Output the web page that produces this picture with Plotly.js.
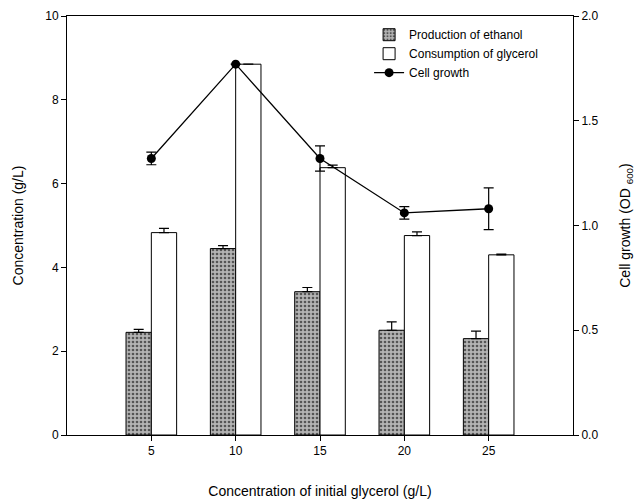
<!DOCTYPE html>
<html>
<head>
<meta charset="utf-8">
<script src="https://cdn.plot.ly/plotly-3.0.1.min.js"></script>
<style>html,body{margin:0;padding:0;background:#fff;}</style>
</head>
<body>
<div id="chart" style="width:637px;height:503px;"></div>
<script>
const glycerolInitial = [5, 10, 15, 20, 25];
const ethanol = [2.45, 4.45, 3.42, 2.5, 2.3];
const ethanolErr = [0.07, 0.07, 0.1, 0.2, 0.18];
const glycerolConsumed = [4.83, 8.85, 6.38, 4.76, 4.3];
const glycerolErr = [0.1, 0.0, 0.06, 0.09, 0.02];
const cellGrowth = [1.32, 1.77, 1.32, 1.06, 1.08];
const cellGrowthErr = [0.03, 0.0, 0.06, 0.03, 0.1];
const xTicks = [5, 10, 15, 20, 25];

const FONT = 'Liberation Sans, Arial, sans-serif';

const traces = [
  {
    type: 'bar', name: 'Production of ethanol',
    x: glycerolInitial, y: ethanol,
    offset: -1.5, width: 1.5,
    marker: {color: '#a6a6a6', line: {color: '#000', width: 1},
             pattern: {shape: '.', fgcolor: '#555', bgcolor: '#b4b4b4', size: 4, solidity: 0.35}},
    error_y: {type: 'data', array: ethanolErr, symmetric: false, arrayminus: ethanolErr.map(() => 0),
              color: '#000', thickness: 1.2, width: 5},
    xaxis: 'x', yaxis: 'y'
  },
  {
    type: 'bar', name: 'Consumption of glycerol',
    x: glycerolInitial, y: glycerolConsumed,
    offset: 0, width: 1.5,
    marker: {color: '#ffffff', line: {color: '#000', width: 1}},
    error_y: {type: 'data', array: glycerolErr, symmetric: false, arrayminus: glycerolErr.map(() => 0),
              color: '#000', thickness: 1.2, width: 5},
    xaxis: 'x', yaxis: 'y'
  },
  {
    type: 'scatter', mode: 'lines+markers', name: 'Cell growth',
    x: glycerolInitial, y: cellGrowth,
    line: {color: '#000', width: 1.3},
    marker: {color: '#000', size: 9, symbol: 'circle'},
    error_y: {type: 'data', array: cellGrowthErr, color: '#000', thickness: 1.2, width: 5},
    xaxis: 'x', yaxis: 'y2'
  }
];

const layout = {
  width: 637, height: 503,
  margin: {l: 67, r: 64, t: 16, b: 68},
  paper_bgcolor: '#fff', plot_bgcolor: '#fff',
  font: {family: FONT, size: 12, color: '#000'},
  showlegend: true,
  barmode: 'overlay',
  legend: {x: 0.597, y: 0.99, xanchor: 'left', yanchor: 'top',
           bgcolor: 'rgba(0,0,0,0)', font: {family: FONT, size: 12, color: '#000'},
           tracegroupgap: 0, itemwidth: 30},
  xaxis: {
    range: [0, 30], tickvals: xTicks, ticktext: xTicks.map(String),
    ticks: 'outside', ticklen: 5, tickcolor: '#000', tickwidth: 1,
    showline: true, linecolor: '#000', linewidth: 1, mirror: true,
    showgrid: false, zeroline: false,
    tickfont: {family: FONT, size: 12, color: '#000'},
    title: {text: 'Concentration of initial glycerol (g/L)', font: {family: FONT, size: 14, color: '#000'}, standoff: 28}
  },
  yaxis: {
    range: [0, 10], dtick: 2, tick0: 0,
    ticks: 'outside', ticklen: 5, tickcolor: '#000', tickwidth: 1,
    showline: true, linecolor: '#000', linewidth: 1,
    showgrid: false, zeroline: false,
    tickfont: {family: FONT, size: 12, color: '#000'},
    title: {text: 'Concentration (g/L)', font: {family: FONT, size: 14, color: '#000'}, standoff: 18}
  },
  yaxis2: {
    overlaying: 'y', side: 'right', anchor: 'x',
    range: [0, 2], dtick: 0.5, tick0: 0, tickformat: '.1f',
    ticks: 'outside', ticklen: 5, tickcolor: '#000', tickwidth: 1,
    showline: true, linecolor: '#000', linewidth: 1,
    showgrid: false, zeroline: false,
    tickfont: {family: FONT, size: 12, color: '#000'},
    title: {text: 'Cell growth (OD <sub>600</sub>)', font: {family: FONT, size: 14, color: '#000'}, standoff: 22}
  }
};

Plotly.newPlot('chart', traces, layout, {displayModeBar: false, staticPlot: true});
</script>
</body>
</html>
